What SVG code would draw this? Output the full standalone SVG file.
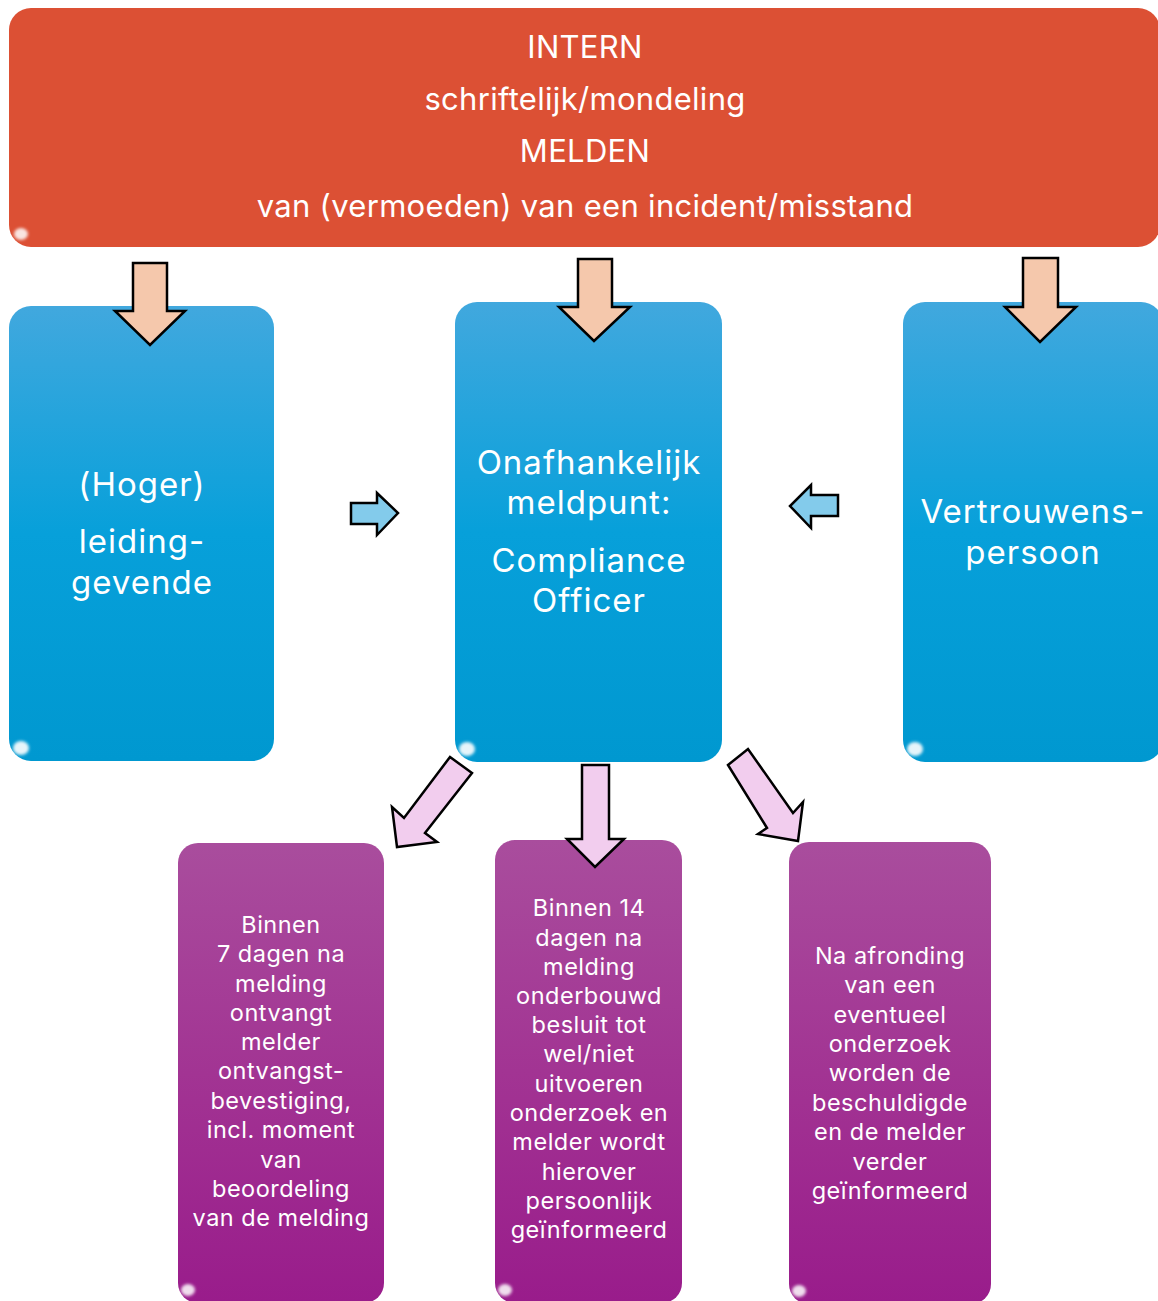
<svg xmlns="http://www.w3.org/2000/svg" width="1158" height="1301" viewBox="0 0 1158 1301">
<defs>
<linearGradient id="gBlue" x1="0" y1="0" x2="0" y2="1">
<stop offset="0" stop-color="#41A8DE"/>
<stop offset="0.5" stop-color="#07A0DA"/>
<stop offset="1" stop-color="#0098D0"/>
</linearGradient>
<linearGradient id="gPurple" x1="0" y1="0" x2="0" y2="1">
<stop offset="0" stop-color="#A94D9D"/>
<stop offset="0.5" stop-color="#A23493"/>
<stop offset="1" stop-color="#991C8B"/>
</linearGradient>
<filter id="blur" x="-50%" y="-50%" width="200%" height="200%"><feGaussianBlur stdDeviation="1.5"/></filter>
</defs>
<style>
.t{font-family:Inter,"Noto Sans","DejaVu Sans",sans-serif;fill:#fff;text-anchor:middle}
.t30{font-size:31px;letter-spacing:0.3px}
.t33{font-size:33px;letter-spacing:1px}
.t23{font-size:23.5px;letter-spacing:0.5px}
.arrO{fill:#F5C8AC;stroke:#000;stroke-width:2.5;stroke-linejoin:miter}
.arrB{fill:#83CBEB;stroke:#000;stroke-width:2.5}
.arrP{fill:#F2CDEE;stroke:#000;stroke-width:2.5}
.hl{fill:none;stroke-width:4;stroke-linecap:round;filter:url(#blur)}
.blob{fill:#fff;filter:url(#blur)}
</style>

<g id="node-intern">
<rect x="9" y="8" width="1151" height="239" rx="22" fill="#DC5034"/>
<path d="M30 13 H1140" class="hl" stroke="#F08A6E" opacity="0.8"/>
<path d="M13 40 V220" class="hl" stroke="#EE7A5C" opacity="0.6"/>
<ellipse cx="21" cy="234" rx="7" ry="6" class="blob" opacity="0.85"/>
<text class="t t30" x="585" y="58">INTERN</text>
<text class="t t30" x="585" y="110">schriftelijk/mondeling</text>
<text class="t t30" x="585" y="162">MELDEN</text>
<text class="t t30" x="585" y="217">van (vermoeden) van een incident/misstand</text>
</g>

<g id="node-leidinggevende">
<rect x="9" y="306" width="265" height="455" rx="22" fill="url(#gBlue)"/>
<path d="M30 312 H252" class="hl" stroke="#8ADCF7" opacity="0.8"/>
<path d="M269 330 V740" class="hl" stroke="#7FD6F5" opacity="0.6"/>
<ellipse cx="21" cy="748" rx="8" ry="7" class="blob" opacity="0.9"/>
<text class="t t33" x="142" y="496">(Hoger)</text>
<text class="t t33" x="142" y="553">leiding-</text>
<text class="t t33" x="142" y="594">gevende</text>
</g>

<g id="node-compliance">
<rect x="455" y="302" width="267" height="460" rx="22" fill="url(#gBlue)"/>
<path d="M476 308 H700" class="hl" stroke="#8ADCF7" opacity="0.8"/>
<path d="M717 326 V740" class="hl" stroke="#7FD6F5" opacity="0.6"/>
<ellipse cx="467" cy="749" rx="8" ry="7" class="blob" opacity="0.9"/>
<text class="t t33" x="589" y="474">Onafhankelijk</text>
<text class="t t33" x="589" y="514">meldpunt:</text>
<text class="t t33" x="589" y="572">Compliance</text>
<text class="t t33" x="589" y="612">Officer</text>
</g>

<g id="node-vertrouwenspersoon">
<rect x="903" y="302" width="260" height="460" rx="22" fill="url(#gBlue)"/>
<path d="M924 308 H1150" class="hl" stroke="#8ADCF7" opacity="0.8"/>
<ellipse cx="915" cy="749" rx="8" ry="7" class="blob" opacity="0.9"/>
<text class="t t33" x="1033" y="523">Vertrouwens-</text>
<text class="t t33" x="1033" y="564">persoon</text>
</g>

<g id="node-7dagen">
<rect x="178" y="843" width="206" height="460" rx="20" fill="url(#gPurple)"/>
<path d="M197 850 H364" class="hl" stroke="#E79AE0" opacity="0.8"/>
<path d="M380 866 V1280" class="hl" stroke="#D98AD3" opacity="0.6"/>
<ellipse cx="188" cy="1290" rx="7" ry="6" class="blob" opacity="0.85"/>
<text class="t t23" x="281" y="933">Binnen</text>
<text class="t t23" x="281" y="962">7 dagen na</text>
<text class="t t23" x="281" y="992">melding</text>
<text class="t t23" x="281" y="1021">ontvangt</text>
<text class="t t23" x="281" y="1050">melder</text>
<text class="t t23" x="281" y="1079">ontvangst-</text>
<text class="t t23" x="281" y="1109">bevestiging,</text>
<text class="t t23" x="281" y="1138">incl. moment</text>
<text class="t t23" x="281" y="1168">van</text>
<text class="t t23" x="281" y="1197">beoordeling</text>
<text class="t t23" x="281" y="1226">van de melding</text>
</g>

<g id="node-14dagen">
<rect x="495" y="840" width="187" height="463" rx="20" fill="url(#gPurple)"/>
<path d="M514 847 H662" class="hl" stroke="#E79AE0" opacity="0.8"/>
<path d="M678 862 V1280" class="hl" stroke="#D98AD3" opacity="0.6"/>
<ellipse cx="505" cy="1290" rx="7" ry="6" class="blob" opacity="0.85"/>
<text class="t t23" x="589" y="916">Binnen 14</text>
<text class="t t23" x="589" y="946">dagen na</text>
<text class="t t23" x="589" y="975">melding</text>
<text class="t t23" x="589" y="1004">onderbouwd</text>
<text class="t t23" x="589" y="1033">besluit tot</text>
<text class="t t23" x="589" y="1062">wel/niet</text>
<text class="t t23" x="589" y="1092">uitvoeren</text>
<text class="t t23" x="589" y="1121">onderzoek en</text>
<text class="t t23" x="589" y="1150">melder wordt</text>
<text class="t t23" x="589" y="1180">hierover</text>
<text class="t t23" x="589" y="1209">persoonlijk</text>
<text class="t t23" x="589" y="1238">geïnformeerd</text>
</g>

<g id="node-afronding">
<rect x="789" y="842" width="202" height="462" rx="20" fill="url(#gPurple)"/>
<path d="M808 849 H971" class="hl" stroke="#E79AE0" opacity="0.8"/>
<path d="M987 864 V1280" class="hl" stroke="#D98AD3" opacity="0.6"/>
<ellipse cx="799" cy="1291" rx="7" ry="6" class="blob" opacity="0.85"/>
<text class="t t23" x="890" y="964">Na afronding</text>
<text class="t t23" x="890" y="993">van een</text>
<text class="t t23" x="890" y="1023">eventueel</text>
<text class="t t23" x="890" y="1052">onderzoek</text>
<text class="t t23" x="890" y="1081">worden de</text>
<text class="t t23" x="890" y="1111">beschuldigde</text>
<text class="t t23" x="890" y="1140">en de melder</text>
<text class="t t23" x="890" y="1170">verder</text>
<text class="t t23" x="890" y="1199">geïnformeerd</text>
</g>

<g id="connectors">
<polygon class="arrO" points="133,263 167,263 167,311 185,311 150,345 115,311 133,311"/>
<polygon class="arrO" points="578,259 612,259 612,307 630,307 594,341 559,307 578,307"/>
<polygon class="arrO" points="1023,258 1058,258 1058,307 1076,307 1040,342 1005,307 1023,307"/>
<polygon class="arrB" points="351,503 377,503 377,493 398,513 377,535 377,524 351,524"/>
<polygon class="arrB" points="838,495 811,495 811,485 790,506 811,528 811,516 838,516"/>
<polygon class="arrP" points="582,765 609,765 609,839 624,839 595,867 567,839 582,839"/>
<polygon class="arrP" points="450,757 472,773 425,833 437,842 397,847 392,807 404,818"/>
<polygon class="arrP" points="728,765 748,749 793,813 803,802 798,841 758,834 767,828"/>
</g>
</svg>
